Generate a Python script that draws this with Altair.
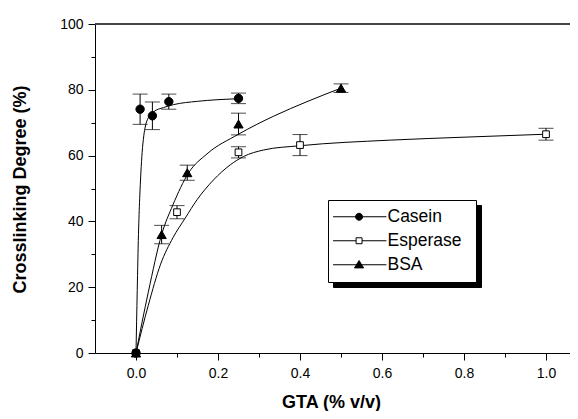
import altair as alt
import pandas as pd

FONT = "Liberation Sans"
series_names = ["Casein", "Esperase", "BSA"]

# measured points (mean, +/- error)
casein_x = [0.0, 0.01, 0.04, 0.08, 0.25]
casein_y = [0.0, 74.1, 72.1, 76.4, 77.4]
casein_err = [0.0, 4.6, 4.2, 2.3, 1.6]

esperase_x = [0.0, 0.1, 0.25, 0.4, 1.0]
esperase_y = [0.0, 42.8, 61.0, 63.2, 66.5]
esperase_err = [0.0, 2.0, 1.7, 3.2, 1.8]

bsa_x = [0.0, 0.0625, 0.125, 0.25, 0.5]
bsa_y = [0.0, 36.0, 54.8, 69.6, 80.5]
bsa_err = [0.0, 2.8, 2.3, 3.3, 1.3]

# fitted curves
casein_fit_x = [0.0, 0.003, 0.006, 0.009, 0.012, 0.015, 0.019, 0.023, 0.03, 0.043, 0.067, 0.092, 0.15, 0.2, 0.25]
casein_fit_y = [0.0, 19.0, 36.0, 47.0, 55.0, 61.0, 66.0, 69.0, 71.5, 73.3, 74.6, 75.5, 76.5, 77.0, 77.3]
esperase_fit_x = [0.0, 0.03, 0.06, 0.09, 0.12, 0.149, 0.189, 0.23, 0.262, 0.311, 0.4, 0.62, 0.8, 1.0]
esperase_fit_y = [0.0, 14.5, 27.0, 35.0, 41.0, 46.6, 52.6, 57.2, 59.7, 61.7, 63.0, 64.7, 65.6, 66.5]
bsa_fit_x = [0.0, 0.03, 0.0625, 0.09, 0.128, 0.173, 0.25, 0.336, 0.417, 0.5]
bsa_fit_y = [0.0, 18.5, 36.0, 45.0, 54.7, 60.5, 66.5, 72.0, 76.4, 80.5]

x_major_ticks = [0.0, 0.2, 0.4, 0.6, 0.8, 1.0]
x_minor_ticks = [0.1, 0.3, 0.5, 0.7, 0.9]
y_major_ticks = [0, 20, 40, 60, 80, 100]
y_minor_ticks = [10, 30, 50, 70, 90]

# ---- tables
rows = []
for name, xs_, ys_, es_ in zip(series_names, [casein_x, esperase_x, bsa_x],
                               [casein_y, esperase_y, bsa_y],
                               [casein_err, esperase_err, bsa_err]):
    for x, y, e in zip(xs_, ys_, es_):
        rows.append(dict(series=name, shadow=name, x=x, y=y, err=e, lo=y - e, hi=y + e))
pts_df = pd.DataFrame(rows)
err_df = pts_df[pts_df["err"] > 0]

frows = []
for name, fx, fy in zip(series_names, [casein_fit_x, esperase_fit_x, bsa_fit_x],
                        [casein_fit_y, esperase_fit_y, bsa_fit_y]):
    for i, (x, y) in enumerate(zip(fx, fy)):
        frows.append(dict(series=name, i=i, x=x, y=y))
fit_df = pd.DataFrame(frows)

xsc = alt.Scale(domain=[-0.1, 1.0585], nice=False, zero=False)
ysc = alt.Scale(domain=[0, 100], nice=False, zero=False)

axis_common = dict(domainColor="black", tickColor="black", labelColor="black",
                   labelFont=FONT, labelFontSize=14, grid=False, tickWidth=1, domainWidth=1)

x_major = alt.Axis(values=x_major_ticks, format=".1f", orient="bottom", tickSize=7,
                   labelPadding=6, labelFlush=False, labelOverlap=False,
                   title="GTA (% v/v)", titleFont=FONT, titleFontSize=18, titleFontWeight="bold",
                   titleColor="black", titleX=236, titleY=54, titleAlign="center",
                   titleBaseline="alphabetic", **axis_common)
x_minor = alt.Axis(values=x_minor_ticks, orient="bottom", tickSize=4, labels=False,
                   domain=False, title=None, grid=False, tickColor="black")
y_major = alt.Axis(values=y_major_ticks, format="d", orient="left", tickSize=7,
                   labelPadding=5, labelFlush=False, labelOverlap=False,
                   title="Crosslinking Degree (%)", titleFont=FONT, titleFontSize=18,
                   titleFontWeight="bold", titleColor="black", titleX=-70, titleY=165,
                   titleAngle=270, titleAlign="center", titleBaseline="alphabetic", **axis_common)
y_minor = alt.Axis(values=y_minor_ticks, orient="left", tickSize=4, labels=False,
                   domain=False, title=None, grid=False, tickColor="black")

top_rule = alt.Chart().mark_rule(color="#444444", strokeWidth=2).encode(
    y=alt.YDatum(100, scale=ysc, axis=None))

fit_lines = alt.Chart(fit_df).mark_line(color="black", strokeWidth=1, interpolate="monotone").encode(
    x=alt.X("x:Q", scale=xsc, axis=x_minor),
    y=alt.Y("y:Q", scale=ysc, axis=y_minor),
    detail="series:N", order="i:Q")

err_rules = alt.Chart(err_df).mark_rule(color="black", strokeWidth=1).encode(
    x=alt.X("x:Q", scale=xsc, axis=x_major),
    y=alt.Y("lo:Q", scale=ysc, axis=y_major),
    y2="hi:Q")

caps_lo = alt.Chart(err_df).mark_tick(orient="horizontal", size=15, thickness=1, color="black").encode(
    x=alt.X("x:Q", scale=xsc, axis=None), y=alt.Y("lo:Q", scale=ysc, axis=None))
caps_hi = alt.Chart(err_df).mark_tick(orient="horizontal", size=15, thickness=1, color="black").encode(
    x=alt.X("x:Q", scale=xsc, axis=None), y=alt.Y("hi:Q", scale=ysc, axis=None))


def pts_layer(name, shape, fill, size):
    return alt.Chart(pts_df).transform_filter(alt.datum.series == name).mark_point(
        shape=shape, filled=True, fill=fill, stroke="black", strokeWidth=1, size=size, opacity=1
    ).encode(x=alt.X("x:Q", scale=xsc, axis=None), y=alt.Y("y:Q", scale=ysc, axis=None))


esp_pts = pts_layer("Esperase", "square", "white", 45)
cas_pts = pts_layer("Casein", "circle", "black", 70)
bsa_pts = pts_layer("BSA", "triangle-up", "black", 85)

# legend symbols: line with marker (unit = sqrt(size)/2 px); trailing move sets the box width
legend_paths = [
    "M-3.34,0L11.91,0M3.09,0A1 1 0 1 1 5.09,0A1 1 0 1 1 3.09,0ZM34.4,0",
    "M-3.34,0L3.24,0M4.94,0L11.91,0M3.24,-0.85L4.94,-0.85L4.94,0.85L3.24,0.85ZM34.4,0",
    "M-3.34,0L11.91,0M2.79,0.9L5.39,0.9L4.09,-1.2ZM34.4,0",
]
shadow_path = "M-3.34,-2.35L-3.34,2.35M34.4,-2.35L34.4,2.35"
legend_fills = ["black", "white", "black"]

legend_common = dict(orient="none", padding=8, labelOffset=34, labelFont=FONT,
                     labelFontSize=17.5, symbolSize=49, symbolStrokeWidth=1, title=None)
main_legend = alt.Legend(legendX=233, legendY=176, fillColor="white", strokeColor="black",
                         labelColor="black", symbolOpacity=1, zindex=1, rowPadding=5, **legend_common)
shadow_legend = alt.Legend(legendX=238, legendY=181, fillColor="black", strokeColor="black",
                           labelColor="black", symbolStrokeColor="black", symbolFillColor="black",
                           symbolOpacity=1, symbolType=shadow_path, zindex=0, labelExpr="''",
                           rowPadding=2.5, **legend_common)

legend_layer = alt.Chart(pts_df).mark_point(filled=True, opacity=0, size=49, strokeWidth=1).encode(
    x=alt.X("x:Q", scale=xsc, axis=None), y=alt.Y("y:Q", scale=ysc, axis=None),
    shape=alt.Shape("series:N", scale=alt.Scale(domain=series_names, range=legend_paths), legend=main_legend),
    fill=alt.Fill("series:N", scale=alt.Scale(domain=series_names, range=legend_fills), legend=main_legend),
    stroke=alt.Stroke("series:N", scale=alt.Scale(domain=series_names, range=["black", "black", "black"]),
                      legend=main_legend))

shadow_layer = alt.Chart(pts_df).mark_point(filled=True, opacity=0, size=49, shape=shadow_path).encode(
    x=alt.X("x:Q", scale=xsc, axis=None), y=alt.Y("y:Q", scale=ysc, axis=None),
    color=alt.Color("shadow:N", scale=alt.Scale(range=["black", "black", "black"]), legend=shadow_legend))

chart = alt.layer(
    top_rule, fit_lines, err_rules, caps_lo, caps_hi, esp_pts, cas_pts, bsa_pts, legend_layer, shadow_layer
).resolve_axis(x="independent", y="independent").properties(
    width=475, height=329,
    padding={"left": 87, "top": 16, "right": 0, "bottom": 58},
    autosize=alt.AutoSizeParams(type="none"),
).configure_view(strokeWidth=0).configure(font=FONT)

chart.save("out.html", embed_options={"renderer": "svg", "actions": False})
